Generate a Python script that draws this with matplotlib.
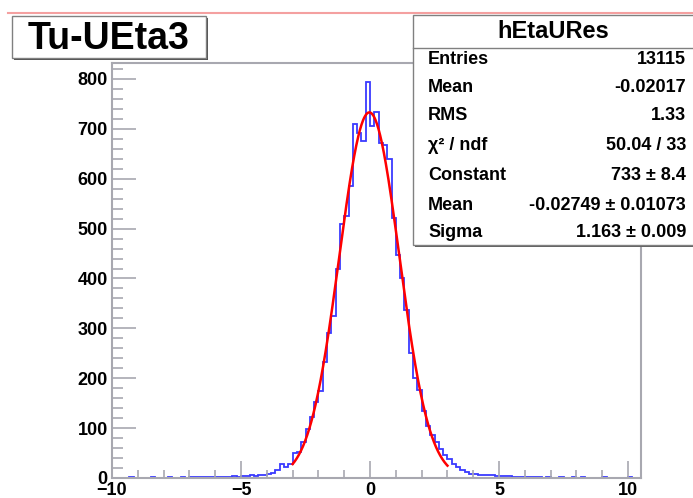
import numpy as np
import matplotlib
matplotlib.use("Agg")
import matplotlib.pyplot as plt
from matplotlib.patches import Rectangle
from matplotlib.lines import Line2D
from matplotlib.ticker import MultipleLocator

# ---------------- data ----------------
title = "Tu-UEta3"
hist_name = "hEtaURes"
x_min, x_max, n_bins = -10.0, 10.5, 123
counts = [
    # k = -60 .. -43
    1, 0, 1, 1, 2, 1, 0, 1, 1, 2, 0, 1, 1, 2, 1, 0, 2, 1,
    # k = -42 .. -31
    2, 3, 2, 2, 3, 2, 3, 3, 2, 3, 4, 3,
    # k = -30 .. -19
    4, 5, 6, 5, 7, 6, 9, 10, 17, 29, 23, 29,
    # k = -18 .. 17
    51, 53, 73, 99, 123, 153, 175, 233, 291, 325, 419, 509, 525, 585, 709, 691,
    675, 793, 705, 734, 671, 667, 639, 522, 447, 400, 337, 251, 200, 176, 135,
    104, 86, 73, 58, 46,
    # k = 18 .. 38
    38, 29, 23, 16, 12, 9, 8, 7, 6, 7, 6, 5, 4, 5, 4, 3, 2, 3, 3, 2, 3,
    # k = 39 .. 62
    2, 1, 2, 1, 1, 2, 1, 0, 2, 1, 2, 1, 1, 0, 1, 2, 1, 0, 1, 1, 0, 2, 1, 0,
]
fit_const, fit_mean, fit_sigma = 733.0, -0.02749, 1.163
fit_range = (-3.0, 3.0)
stat_labels = ["Entries", "Mean", "RMS", "\u03c7\u00b2 / ndf", "Constant", "Mean", "Sigma"]
stat_values = ["13115", "-0.02017", "1.33", "50.04 / 33", "733 \u00b1 8.4",
               "-0.02749 \u00b1 0.01073", "1.163 \u00b1 0.009"]
x_ticks = [-10, -5, 0, 5, 10]
y_ticks = [0, 100, 200, 300, 400, 500, 600, 700, 800]
y_max = 832

# ---------------- figure ----------------
W, H = 693, 498
fig = plt.figure(figsize=(W / 100, H / 100), dpi=100)
FONT = "Liberation Sans"
GRAY = "#a8a8b0"

def fx(x):
    return x / W

def fy(y):
    return 1 - y / H

ax = fig.add_axes([fx(112), fy(478), (641 - 112) / W, (478 - 63) / H])
edges = np.linspace(x_min, x_max, n_bins + 1)
ax.stairs(counts, edges, color="#3a3aff", linewidth=1.3, zorder=1)

xf = np.linspace(fit_range[0], fit_range[1], 300)
yf = fit_const * np.exp(-0.5 * ((xf - fit_mean) / fit_sigma) ** 2)
ax.plot(xf, yf, color="#ff0000", linewidth=1.8, zorder=3)

ax.set_xlim(x_min, x_max)
ax.set_ylim(0, y_max)
for s in ax.spines.values():
    s.set_color(GRAY)
    s.set_linewidth(1.5)
    s.set_zorder(2.5)

ax.set_xticks(x_ticks)
ax.set_yticks(y_ticks)
ax.xaxis.set_minor_locator(MultipleLocator(1))
ax.yaxis.set_minor_locator(MultipleLocator(20))
ax.tick_params(axis="x", which="major", direction="in", length=12, width=1.2,
               color=GRAY, pad=3)
ax.tick_params(axis="x", which="minor", direction="in", length=6, width=1.2, color=GRAY)
ax.tick_params(axis="y", which="major", direction="in", length=17, width=1.2,
               color=GRAY, pad=3)
ax.tick_params(axis="y", which="minor", direction="in", length=8, width=1.2, color=GRAY)
for lab in ax.get_xticklabels() + ax.get_yticklabels():
    lab.set_fontfamily(FONT)
    lab.set_fontweight("bold")
    lab.set_fontsize(13)

# pink line at top
fig.add_artist(Line2D([fx(8), fx(693)], [fy(13), fy(13)], color="#f4a0a0", linewidth=1.5))

# title box
shadow = Rectangle((fx(14), fy(60)), (206 - 12) / W, (58 - 16) / H, transform=fig.transFigure,
                   facecolor="#505050", edgecolor="none", zorder=4)
fig.add_artist(shadow)
tbox = Rectangle((fx(12), fy(58)), (206 - 12) / W, (58 - 16) / H, transform=fig.transFigure,
                 facecolor="white", edgecolor="#808080", linewidth=1.0, zorder=5)
fig.add_artist(tbox)
fig.text(fx(109), fy(39), title, ha="center", va="center", fontsize=27,
         fontfamily=FONT, fontweight="bold", zorder=6)

# stats box
sshadow = Rectangle((fx(415), fy(247)), (720 - 413) / W, (245 - 15) / H, transform=fig.transFigure,
                    facecolor="#606060", edgecolor="none", zorder=4)
fig.add_artist(sshadow)
sbox = Rectangle((fx(413), fy(245)), (720 - 413) / W, (245 - 15) / H, transform=fig.transFigure,
                 facecolor="white", edgecolor="#808080", linewidth=1.0, zorder=5)
fig.add_artist(sbox)
fig.add_artist(Line2D([fx(413), fx(693)], [fy(48), fy(48)], color="#808080",
                      linewidth=1.0, zorder=6))
fig.text(fx(553), fy(32), hist_name, ha="center", va="center", fontsize=17,
         fontfamily=FONT, fontweight="bold", zorder=6)
row_y = [59, 88, 116, 145, 176, 205, 232]
for lab, val, y in zip(stat_labels, stat_values, row_y):
    fig.text(fx(428), fy(y), lab, ha="left", va="center", fontsize=13,
             fontfamily=FONT, fontweight="bold", zorder=6)
    fig.text(fx(686), fy(y), val, ha="right", va="center", fontsize=13,
             fontfamily=FONT, fontweight="bold", zorder=6)

fig.savefig("out.png", dpi=100)
